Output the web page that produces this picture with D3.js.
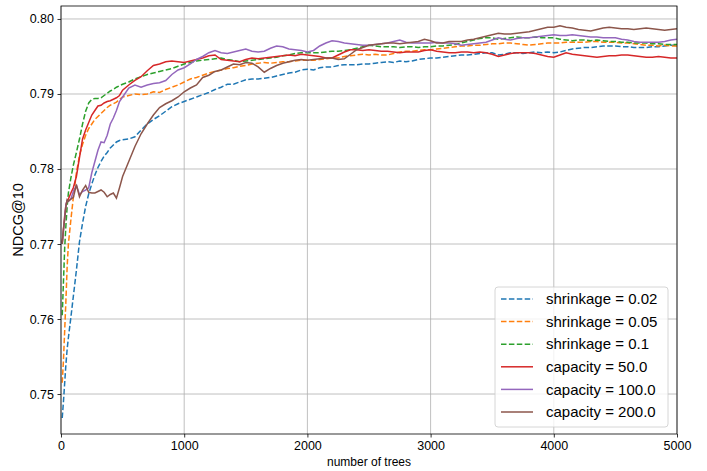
<!DOCTYPE html>
<html>
<head>
<meta charset="utf-8">
<script src="https://cdn.jsdelivr.net/npm/d3@7"></script>
<style>
  body { margin: 0; background: #fff; }
  text { font-family: "Liberation Sans", Arial, sans-serif; fill: #000; }
</style>
</head>
<body>
<svg id="canvas"></svg>
<script>
let trees = [10, 20, 30, 40, 50, 60, 80, 100,
  125, 150, 175, 200, 225, 250, 275, 300, 325, 350, 375, 400, 425, 450, 475, 500,
  550, 600, 650, 700, 750, 800, 850, 900, 950, 1000,
  1050, 1100, 1150, 1200, 1250, 1300, 1350, 1400, 1450, 1500,
  1550, 1600, 1650, 1700, 1750, 1800, 1850, 1900, 1950, 2000,
  2050, 2100, 2150, 2200, 2250, 2300, 2350, 2400, 2450, 2500,
  2550, 2600, 2650, 2700, 2750, 2800, 2850, 2900, 2950, 3000,
  3050, 3100, 3150, 3200, 3250, 3300, 3350, 3400, 3450, 3500,
  3550, 3600, 3650, 3700, 3750, 3800, 3850, 3900, 3950, 4000,
  4050, 4100, 4150, 4200, 4250, 4300, 4350, 4400, 4450, 4500,
  4550, 4600, 4650, 4700, 4750, 4800, 4850, 4900, 4950, 5000];

let shrink002 = [0.7468, 0.7490, 0.7515, 0.7540, 0.7560, 0.7575, 0.7602, 0.7630,
  0.7665, 0.7703, 0.7728, 0.7750, 0.7767, 0.7780, 0.7792, 0.7802, 0.7810, 0.7817, 0.7822, 0.7828, 0.7832, 0.7836, 0.7838, 0.7839,
  0.7840, 0.7843, 0.7852, 0.7860, 0.7866, 0.7871, 0.7877, 0.7883, 0.7887, 0.7890,
  0.7893, 0.7896, 0.7899, 0.7902, 0.7906, 0.7909, 0.7913, 0.7913, 0.7916, 0.7919,
  0.7920, 0.7920, 0.7921, 0.7922, 0.7924, 0.7926, 0.7928, 0.7929, 0.7932, 0.7933,
  0.7932, 0.7935, 0.7936, 0.7936, 0.7938, 0.7939, 0.7939, 0.7939, 0.7940, 0.7940,
  0.7941, 0.7942, 0.7943, 0.7942, 0.7944, 0.7943, 0.7944, 0.7946, 0.7947, 0.7948,
  0.7948, 0.7949, 0.7950, 0.7951, 0.7952, 0.7952, 0.7953, 0.7954, 0.7955, 0.7955,
  0.7952, 0.7953, 0.7955, 0.7955, 0.7954, 0.7955, 0.7956, 0.7955, 0.7956, 0.7955,
  0.7956, 0.7958, 0.7960, 0.7961, 0.7962, 0.7962, 0.7963, 0.7964, 0.7964, 0.7964,
  0.7963, 0.7963, 0.7962, 0.7962, 0.7962, 0.7963, 0.7963, 0.7964, 0.7965, 0.7965];

let shrink005 = [0.7515, 0.7545, 0.7585, 0.7625, 0.7670, 0.7700, 0.7732, 0.7762,
  0.7795, 0.7818, 0.7833, 0.7845, 0.7854, 0.7860, 0.7866, 0.7870, 0.7874, 0.7878, 0.7882, 0.7885, 0.7887, 0.7889, 0.7893, 0.7896,
  0.7898, 0.7900, 0.7899, 0.7900, 0.7903, 0.7902, 0.7906, 0.7909, 0.7912, 0.7916,
  0.7920, 0.7922, 0.7925, 0.7928, 0.7930, 0.7932, 0.7934, 0.7935, 0.7937, 0.7938,
  0.7940, 0.7941, 0.7942, 0.7941, 0.7942, 0.7943, 0.7943, 0.7944, 0.7945, 0.7945,
  0.7945, 0.7946, 0.7947, 0.7948, 0.7948, 0.7950, 0.7951, 0.7952, 0.7953, 0.7952,
  0.7953, 0.7952, 0.7952, 0.7954, 0.7956, 0.7957, 0.7957, 0.7958, 0.7959, 0.7959,
  0.7960, 0.7961, 0.7962, 0.7963, 0.7964, 0.7964, 0.7965, 0.7965, 0.7966, 0.7967,
  0.7967, 0.7968, 0.7968, 0.7967, 0.7966, 0.7965, 0.7966, 0.7967, 0.7968, 0.7968,
  0.7968, 0.7969, 0.7969, 0.7969, 0.7969, 0.7970, 0.7970, 0.7969, 0.7969, 0.7969,
  0.7968, 0.7968, 0.7967, 0.7966, 0.7965, 0.7965, 0.7964, 0.7965, 0.7964, 0.7964];

let shrink01 = [0.7605, 0.7650, 0.7695, 0.7725, 0.7750, 0.7768, 0.7788, 0.7805,
  0.7822, 0.7840, 0.7860, 0.7877, 0.7888, 0.7893, 0.7894, 0.7894, 0.7895, 0.7898, 0.7901, 0.7904, 0.7906, 0.7909, 0.7911, 0.7913,
  0.7916, 0.7920, 0.7923, 0.7926, 0.7928, 0.7930, 0.7932, 0.7934, 0.7937, 0.7940,
  0.7942, 0.7944, 0.7945, 0.7946, 0.7947, 0.7948, 0.7946, 0.7945, 0.7943, 0.7944,
  0.7945, 0.7946, 0.7947, 0.7948, 0.7949, 0.7951, 0.7952, 0.7954, 0.7955, 0.7955,
  0.7955, 0.7955, 0.7956, 0.7957, 0.7957, 0.7958, 0.7959, 0.7961, 0.7963, 0.7965,
  0.7964, 0.7963, 0.7963, 0.7963, 0.7962, 0.7963, 0.7963, 0.7962, 0.7963, 0.7963,
  0.7964, 0.7964, 0.7965, 0.7966, 0.7968, 0.7970, 0.7972, 0.7974, 0.7975, 0.7975,
  0.7973, 0.7974, 0.7975, 0.7976, 0.7975, 0.7975, 0.7976, 0.7975, 0.7975, 0.7975,
  0.7973, 0.7972, 0.7971, 0.7972, 0.7972, 0.7971, 0.7972, 0.7971, 0.7970, 0.7970,
  0.7969, 0.7969, 0.7968, 0.7968, 0.7968, 0.7967, 0.7967, 0.7966, 0.7966, 0.7966];

let cap50 = [0.7702, 0.7720, 0.7738, 0.7752, 0.7758, 0.7760, 0.7768, 0.7775,
  0.7790, 0.7815, 0.7840, 0.7852, 0.7862, 0.7872, 0.7878, 0.7884, 0.7885, 0.7888, 0.7890, 0.7891, 0.7893, 0.7895, 0.7898, 0.7905,
  0.7912, 0.7918, 0.7923, 0.7931, 0.7938, 0.7940, 0.7943, 0.7944, 0.7943, 0.7942,
  0.7944, 0.7946, 0.7948, 0.7951, 0.7952, 0.7946, 0.7945, 0.7944, 0.7943, 0.7946,
  0.7948, 0.7947, 0.7948, 0.7949, 0.7950, 0.7951, 0.7952, 0.7951, 0.7953, 0.7952,
  0.7951, 0.7950, 0.7948, 0.7948, 0.7952, 0.7956, 0.7959, 0.7959, 0.7958, 0.7959,
  0.7958, 0.7957, 0.7957, 0.7956, 0.7955, 0.7956, 0.7956, 0.7956, 0.7958, 0.7959,
  0.7957, 0.7956, 0.7955, 0.7955, 0.7956, 0.7956, 0.7955, 0.7956, 0.7955, 0.7953,
  0.7950, 0.7952, 0.7954, 0.7955, 0.7955, 0.7955, 0.7954, 0.7952, 0.7950, 0.7949,
  0.7952, 0.7955, 0.7953, 0.7952, 0.7951, 0.7950, 0.7949, 0.7950, 0.7951, 0.7951,
  0.7952, 0.7952, 0.7951, 0.7950, 0.7949, 0.7949, 0.7950, 0.7949, 0.7948, 0.7948];

let cap100 = [0.7700, 0.7718, 0.7735, 0.7752, 0.7758, 0.7757, 0.7760, 0.7770,
  0.7778, 0.7766, 0.7770, 0.7772, 0.7775, 0.7795, 0.7810, 0.7825, 0.7836, 0.7835, 0.7845, 0.7860, 0.7868, 0.7878, 0.7890, 0.7896,
  0.7908, 0.7912, 0.7909, 0.7912, 0.7914, 0.7915, 0.7918, 0.7926, 0.7932, 0.7935,
  0.7940, 0.7946, 0.7950, 0.7955, 0.7958, 0.7955, 0.7954, 0.7956, 0.7958, 0.7960,
  0.7957, 0.7956, 0.7957, 0.7961, 0.7964, 0.7963, 0.7960, 0.7959, 0.7958, 0.7956,
  0.7958, 0.7964, 0.7968, 0.7971, 0.7970, 0.7968, 0.7967, 0.7966, 0.7965, 0.7965,
  0.7966, 0.7967, 0.7968, 0.7970, 0.7972, 0.7969, 0.7968, 0.7968, 0.7968, 0.7968,
  0.7969, 0.7968, 0.7968, 0.7967, 0.7965, 0.7966, 0.7967, 0.7968, 0.7969, 0.7972,
  0.7975, 0.7973, 0.7972, 0.7974, 0.7975, 0.7975, 0.7976, 0.7977, 0.7978, 0.7979,
  0.7978, 0.7978, 0.7979, 0.7978, 0.7977, 0.7976, 0.7976, 0.7975, 0.7975, 0.7975,
  0.7973, 0.7972, 0.7970, 0.7969, 0.7969, 0.7969, 0.7969, 0.7970, 0.7972, 0.7973];

let cap200 = [0.7700, 0.7720, 0.7733, 0.7750, 0.7759, 0.7757, 0.7760, 0.7762,
  0.7779, 0.7763, 0.7772, 0.7778, 0.7769, 0.7768, 0.7768, 0.7770, 0.7772, 0.7769, 0.7763, 0.7766, 0.7768, 0.7761, 0.7775, 0.7790,
  0.7810, 0.7830, 0.7847, 0.7860, 0.7872, 0.7882, 0.7887, 0.7891, 0.7896, 0.7903,
  0.7908, 0.7912, 0.7922, 0.7925, 0.7930, 0.7932, 0.7936, 0.7940, 0.7939, 0.7942,
  0.7941, 0.7936, 0.7929, 0.7934, 0.7938, 0.7941, 0.7943, 0.7945, 0.7946, 0.7945,
  0.7946, 0.7947, 0.7948, 0.7948, 0.7946, 0.7947, 0.7953, 0.7959, 0.7962, 0.7965,
  0.7966, 0.7967, 0.7968, 0.7968, 0.7967, 0.7968, 0.7969, 0.7970, 0.7973, 0.7971,
  0.7968, 0.7968, 0.7970, 0.7970, 0.7970, 0.7972, 0.7973, 0.7975, 0.7977, 0.7979,
  0.7981, 0.7980, 0.7980, 0.7981, 0.7982, 0.7983, 0.7985, 0.7987, 0.7989, 0.7989,
  0.7991, 0.7989, 0.7988, 0.7986, 0.7985, 0.7984, 0.7986, 0.7988, 0.7989, 0.7988,
  0.7987, 0.7987, 0.7986, 0.7987, 0.7988, 0.7987, 0.7986, 0.7985, 0.7986, 0.7987];

let labels = ['shrinkage = 0.02', 'shrinkage = 0.05', 'shrinkage = 0.1',
  'capacity = 50.0', 'capacity = 100.0', 'capacity = 200.0'];
let colors = ['#1f77b4', '#ff7f0e', '#2ca02c', '#d62728', '#9467bd', '#8c564b'];
let dashed = [true, true, true, false, false, false];
let series = [shrink002, shrink005, shrink01, cap50, cap100, cap200];

let xTicks = [0, 1000, 2000, 3000, 4000, 5000];
let yTicks = [0.75, 0.76, 0.77, 0.78, 0.79, 0.80];

let W = 707, H = 471;
let pLeft = 61, pRight = 677, pTop = 6, pBottom = 434;

let svg = d3.select('#canvas')
  .attr('width', W)
  .attr('height', H);

let x = d3.scaleLinear().domain([0, 5000]).range([pLeft, pRight]);
let y = d3.scaleLinear().domain([0.74467, 0.80173]).range([pBottom, pTop]);

// grid
svg.append('g')
  .selectAll('line')
  .data(xTicks)
  .join('line')
  .attr('x1', d => x(d)).attr('x2', d => x(d))
  .attr('y1', pTop).attr('y2', pBottom)
  .attr('stroke', '#b0b0b0').attr('stroke-width', 0.8);

svg.append('g')
  .selectAll('line')
  .data(yTicks)
  .join('line')
  .attr('x1', pLeft).attr('x2', pRight)
  .attr('y1', d => y(d)).attr('y2', d => y(d))
  .attr('stroke', '#b0b0b0').attr('stroke-width', 0.8);

svg.append('clipPath').attr('id', 'clip')
  .append('rect')
  .attr('x', pLeft).attr('y', pTop)
  .attr('width', pRight - pLeft).attr('height', pBottom - pTop);

let line = d3.line()
  .x((d, i) => x(trees[i]))
  .y(d => y(d));

svg.append('g')
  .attr('clip-path', 'url(#clip)')
  .selectAll('path')
  .data(series)
  .join('path')
  .attr('d', line)
  .attr('fill', 'none')
  .attr('stroke', (d, i) => colors[i])
  .attr('stroke-width', 1.5)
  .attr('stroke-dasharray', (d, i) => dashed[i] ? '5.5,2.4' : null);

// axes
let xAxis = svg.append('g')
  .attr('transform', `translate(0,${pBottom})`)
  .call(d3.axisBottom(x).tickValues(xTicks).tickSize(3.5).tickPadding(3.5).tickFormat(d3.format('d')));

let yAxis = svg.append('g')
  .attr('transform', `translate(${pLeft},0)`)
  .call(d3.axisLeft(y).tickValues(yTicks).tickSize(3.5).tickPadding(3.5).tickFormat(d3.format('.2f')));

[xAxis, yAxis].forEach(a => {
  a.select('.domain').remove();
  a.selectAll('text').attr('font-size', 12.5).attr('font-family', '"Liberation Sans", Arial, sans-serif').attr('fill', '#000');
  a.selectAll('line').attr('stroke', '#000').attr('stroke-width', 0.8);
});

svg.append('rect')
  .attr('x', pLeft).attr('y', pTop)
  .attr('width', pRight - pLeft).attr('height', pBottom - pTop)
  .attr('fill', 'none')
  .attr('stroke', '#000')
  .attr('stroke-width', 0.8);

svg.append('text')
  .attr('x', (pLeft + pRight) / 2)
  .attr('y', 466)
  .attr('text-anchor', 'middle')
  .attr('font-size', 12)
  .text('number of trees');

svg.append('text')
  .attr('transform', `translate(23,${(pTop + pBottom) / 2}) rotate(-90)`)
  .attr('text-anchor', 'middle')
  .attr('font-size', 14.5)
  .text('NDCG@10');

// legend
let legend = svg.append('g');

legend.append('rect')
  .attr('x', 495).attr('y', 287)
  .attr('width', 173).attr('height', 140)
  .attr('rx', 3)
  .attr('fill', 'white').attr('fill-opacity', 0.8)
  .attr('stroke', '#cccccc').attr('stroke-width', 0.8);

let items = legend.selectAll('g.item')
  .data(labels)
  .join('g')
  .attr('class', 'item')
  .attr('transform', (d, i) => `translate(0,${299 + i * 22.6})`);

items.append('line')
  .attr('x1', 501).attr('x2', 533)
  .attr('stroke', (d, i) => colors[i])
  .attr('stroke-width', 1.5)
  .attr('stroke-dasharray', (d, i) => dashed[i] ? '5.5,2.4' : null);

items.append('text')
  .attr('x', 546)
  .attr('dy', '0.35em')
  .attr('font-size', 15)
  .text(d => d);
</script>
</body>
</html>
